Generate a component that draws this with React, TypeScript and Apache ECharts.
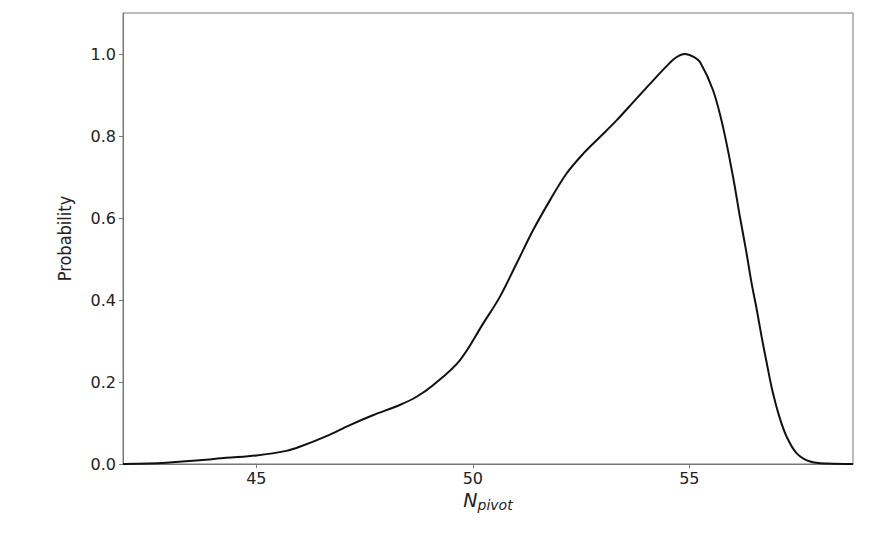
import React, { useEffect, useRef } from "react";
import * as echarts from "echarts";

const nPivot = [
  41.92, 42.5, 42.92, 43.69, 44.3, 45.0, 45.69, 46.0, 46.62, 47.16, 47.69, 48.31, 48.7,
  49.08, 49.7, 50.24, 50.62, 51.01, 51.39, 51.78, 52.16, 52.55, 52.93, 53.32, 53.7,
  54.09, 54.48, 54.7, 54.9, 55.1, 55.25, 55.55, 55.78, 56.01, 56.17, 56.31, 56.44,
  56.56, 56.67, 56.79, 56.92, 57.08, 57.25, 57.48, 57.79, 58.2, 58.78,
];
const probability = [
  0.0, 0.001, 0.003, 0.009, 0.015, 0.021, 0.032, 0.042, 0.068, 0.095, 0.119, 0.144, 0.164,
  0.192, 0.253, 0.343, 0.407, 0.489, 0.57, 0.643, 0.708, 0.757, 0.797, 0.838, 0.882,
  0.927, 0.971, 0.992, 1.0, 0.993, 0.98, 0.911, 0.821, 0.7, 0.602, 0.521, 0.44,
  0.375, 0.31, 0.245, 0.178, 0.115, 0.066, 0.026, 0.006, 0.001, 0.0,
];
const xTicks = [45, 50, 55];
const yTicks = [0, 0.2, 0.4, 0.6, 0.8, 1.0];

export default function App() {
  const ref = useRef<HTMLDivElement>(null);
  useEffect(() => {
    document.body.style.margin = "0";
    if (!ref.current) return;
    const chart = echarts.init(ref.current, null, { renderer: "svg" });
    const axisColor = "#777";
    const labelStyle = {
      color: "#222",
      fontFamily: "DejaVu Sans",
      fontSize: 16,
    };
    chart.setOption({
      animation: false,
      grid: {
        left: 123,
        right: 19,
        top: 13,
        bottom: 81,
        show: true,
        borderColor: axisColor,
        borderWidth: 1,
        backgroundColor: "transparent",
      },
      xAxis: {
        type: "value",
        min: 41.92,
        max: 58.78,
        name: "{n|N}{s|pivot}",
        nameLocation: "middle",
        nameGap: 20,
        nameTextStyle: {
          rich: {
            n: { fontFamily: "DejaVu Sans", fontStyle: "italic", fontSize: 19, color: "#222" },
            s: {
              fontFamily: "DejaVu Sans",
              fontStyle: "italic",
              fontSize: 14,
              color: "#222",
              verticalAlign: "bottom",
              padding: [10, 0, 0, 0],
            },
          },
        },
        axisLine: { show: true, lineStyle: { color: axisColor, width: 1 } },
        axisTick: { show: true, length: 4, customValues: xTicks, lineStyle: { color: axisColor } },
        axisLabel: { ...labelStyle, margin: 6, customValues: xTicks },
        splitLine: { show: false },
      },
      yAxis: {
        type: "value",
        min: 0,
        max: 1.1,
        name: "Probability",
        nameLocation: "middle",
        nameGap: 50,
        nameRotate: 90,
        nameTextStyle: {
          fontFamily: "DejaVu Sans Condensed, DejaVu Sans",
          fontSize: 18,
          color: "#222",
        },
        axisLine: { show: true, lineStyle: { color: axisColor, width: 1 } },
        axisTick: { show: true, length: 4, customValues: yTicks, lineStyle: { color: axisColor } },
        axisLabel: {
          ...labelStyle,
          margin: 7,
          customValues: yTicks,
          formatter: (v: number) => v.toFixed(1),
        },
        splitLine: { show: false },
      },
      series: [
        {
          type: "line",
          data: nPivot.map((x, i) => [x, probability[i]]),
          smooth: 0.35,
          showSymbol: false,
          lineStyle: { color: "#111", width: 2 },
          itemStyle: { color: "#111" },
        },
      ],
    });
    return () => chart.dispose();
  }, []);
  return <div ref={ref} style={{ width: 872, height: 545 }} />;
}
